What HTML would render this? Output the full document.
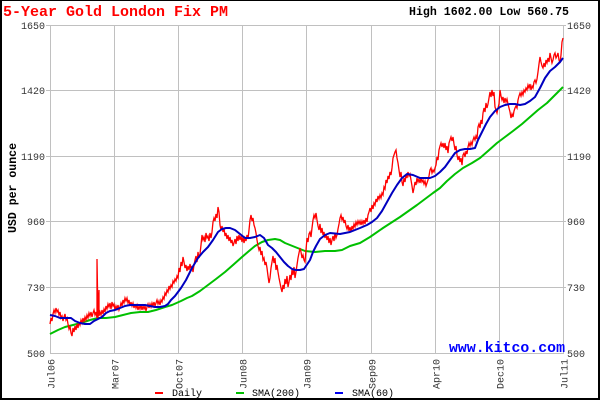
<!DOCTYPE html>
<html>
<head>
<meta charset="utf-8">
<style>
html,body{margin:0;padding:0;background:#fff;}
body{width:600px;height:400px;overflow:hidden;}
svg{display:block;}
text{font-family:"Liberation Mono","DejaVu Sans Mono",monospace;}
</style>
</head>
<body>
<svg width="600" height="400" viewBox="0 0 600 400" xmlns="http://www.w3.org/2000/svg">
<rect x="0" y="0" width="600" height="400" fill="#fff"/>
<!-- outer border -->
<rect x="0" y="0" width="600" height="1" fill="#000"/>
<rect x="0" y="0" width="2" height="400" fill="#000"/>
<rect x="598" y="0" width="2" height="400" fill="#000"/>
<rect x="0" y="398" width="600" height="2" fill="#000"/>

<!-- title -->
<text x="3" y="16" font-size="15" font-weight="bold" fill="#ff0000" textLength="225" lengthAdjust="spacingAndGlyphs">5-Year Gold London Fix PM</text>
<text x="409" y="15" font-size="12" font-weight="bold" fill="#000" textLength="160" lengthAdjust="spacingAndGlyphs">High 1602.00 Low 560.75</text>

<!-- grid -->
<g stroke="#c0c0c0" stroke-width="1" shape-rendering="crispEdges" fill="none">
<line x1="50" y1="25.5" x2="564" y2="25.5"/>
<line x1="50" y1="90.5" x2="564" y2="90.5"/>
<line x1="50" y1="156.5" x2="564" y2="156.5"/>
<line x1="50" y1="221.5" x2="564" y2="221.5"/>
<line x1="50" y1="287.5" x2="564" y2="287.5"/>
<line x1="50" y1="353.5" x2="564" y2="353.5"/>
<line x1="50.5" y1="25" x2="50.5" y2="354"/>
<line x1="114.5" y1="25" x2="114.5" y2="354"/>
<line x1="178.5" y1="25" x2="178.5" y2="354"/>
<line x1="242.5" y1="25" x2="242.5" y2="354"/>
<line x1="306.5" y1="25" x2="306.5" y2="354"/>
<line x1="371.5" y1="25" x2="371.5" y2="354"/>
<line x1="435.5" y1="25" x2="435.5" y2="354"/>
<line x1="499.5" y1="25" x2="499.5" y2="354"/>
<line x1="563.5" y1="25" x2="563.5" y2="354"/>
<!-- tick stubs -->
<line x1="46" y1="25.5" x2="50" y2="25.5"/>
<line x1="46" y1="90.5" x2="50" y2="90.5"/>
<line x1="46" y1="156.5" x2="50" y2="156.5"/>
<line x1="46" y1="221.5" x2="50" y2="221.5"/>
<line x1="46" y1="287.5" x2="50" y2="287.5"/>
<line x1="564" y1="25.5" x2="566" y2="25.5"/>
<line x1="564" y1="90.5" x2="566" y2="90.5"/>
<line x1="564" y1="156.5" x2="566" y2="156.5"/>
<line x1="564" y1="221.5" x2="566" y2="221.5"/>
<line x1="564" y1="287.5" x2="566" y2="287.5"/>
</g>

<!-- y labels -->
<g font-size="10" fill="#333" text-anchor="end">
<text x="45" y="29">1650</text>
<text x="45" y="94">1420</text>
<text x="45" y="160">1190</text>
<text x="45" y="225">960</text>
<text x="45" y="291">730</text>
<text x="45" y="357">500</text>
</g>
<g font-size="10" fill="#333" text-anchor="start">
<text x="567" y="29">1650</text>
<text x="567" y="94">1420</text>
<text x="567" y="160">1190</text>
<text x="567" y="225">960</text>
<text x="567" y="291">730</text>
<text x="567" y="357">500</text>
</g>

<!-- y axis title -->
<text transform="translate(16,188) rotate(-90)" font-size="12" font-weight="bold" fill="#000" text-anchor="middle" textLength="90" lengthAdjust="spacingAndGlyphs">USD per ounce</text>

<!-- x labels -->
<g font-size="10" fill="#333" text-anchor="end">
<text transform="translate(54.5,359) rotate(-90)">Jul06</text>
<text transform="translate(118.5,359) rotate(-90)">Mar07</text>
<text transform="translate(182.5,359) rotate(-90)">Oct07</text>
<text transform="translate(246.5,359) rotate(-90)">Jun08</text>
<text transform="translate(310.5,359) rotate(-90)">Jan09</text>
<text transform="translate(375.5,359) rotate(-90)">Sep09</text>
<text transform="translate(439.5,359) rotate(-90)">Apr10</text>
<text transform="translate(503.5,359) rotate(-90)">Dec10</text>
<text transform="translate(567.5,359) rotate(-90)">Jul11</text>
</g>

<!-- SMA200 green -->
<polyline fill="none" stroke="#00c000" stroke-width="2" stroke-linejoin="round" points="50,334 58,330 65,327 73,325 81,323 90,320 98,318 106,318 115,317 123,315 131,313 140,312 148,312 156,310 165,307 172,305 181,301 187,298 192,296 200,291 208,285 216,279 225,272 233,265 242,257 249,251 255,246 262,242 268,240 275,239 280,240 285,243 295,247 305,251 315,252 325,251 335,251 342,250 350,246 360,243 370,237 383,228 400,217 417,205 433,193 440,188 447,181 455,174 463,168 472,163 480,158 488,151 497,143 505,137 513,131 522,124 530,117 538,110 547,103 555,95 563,87"/>

<!-- Daily red -->
<polyline fill="none" stroke="#ff0000" stroke-width="1.3" stroke-linejoin="miter" points="50,324 51,318 52,321 53,314 54,310 55,313 56,308 57,312 58,310 59,315 60,312 61,318 62,316 63,321 64,317 65,314 66,320 67,318 68,324 69,329 70,326 71,333 72,336 73,328 74,332 75,326 76,330 77,324 78,328 79,322 80,325 81,320 82,323 83,318 84,322 85,317 86,320 87,315 88,318 89,313 90,316 91,312 92,317 93,313 94,310 95,315 96,312 97,318 97,259 98,318 99,290 99,316 100,312 101,315 102,310 103,314 104,309 105,312 106,306 107,309 108,304 109,307 110,303 111,309 112,302 113,306 114,304 115,310 116,306 117,309 118,305 119,310 120,307 121,303 122,306 123,300 124,303 125,298 126,301 127,298 128,303 129,300 130,306 131,302 132,306 133,303 134,308 135,304 136,308 137,305 138,310 139,306 140,309 141,305 142,310 143,306 144,309 145,306 146,311 147,307 148,304 149,308 150,304 151,307 152,303 153,306 154,302 155,306 156,303 157,300 158,304 159,301 160,305 161,300 162,302 163,297 164,299 165,293 166,295 167,290 168,292 169,286 170,289 171,285 172,287 173,281 174,283 175,279 176,281 177,276 178,278 179,268 180,272 181,262 182,266 183,257 184,262 185,268 186,265 187,271 188,266 189,270 190,264 191,269 192,266 193,272 194,265 195,260 196,256 197,262 198,252 199,258 200,254 201,245 202,235 203,240 204,237 205,242 206,233 207,238 208,236 209,241 210,233 211,238 212,232 213,222 214,218 215,221 216,214 217,218 218,207 219,212 220,225 221,230 222,226 223,232 224,228 225,236 226,233 227,239 228,235 229,241 230,237 231,243 232,240 233,246 234,243 235,239 236,244 237,236 238,241 239,235 240,240 241,236 242,242 243,237 244,243 245,238 246,241 247,235 248,239 249,230 250,220 251,215 252,221 253,218 254,225 255,228 256,233 257,240 258,246 259,250 260,247 261,255 262,251 263,260 264,258 265,265 266,262 267,268 268,276 269,283 270,278 271,268 272,262 273,256 274,263 275,258 276,270 277,265 278,272 279,278 280,283 281,288 282,292 283,285 284,289 285,279 286,284 287,276 288,287 289,282 290,275 291,280 292,270 293,275 294,267 295,278 296,272 297,265 298,258 299,253 300,248 301,252 302,258 303,255 304,260 305,262 306,250 307,238 308,242 309,234 310,232 311,237 312,228 313,220 314,215 315,218 316,213 317,220 318,226 319,230 320,224 321,233 322,228 323,235 324,232 325,238 326,234 327,240 328,236 329,243 330,238 331,245 332,240 333,236 334,241 335,233 336,238 337,235 338,229 339,224 340,218 341,215 342,220 343,217 344,223 345,220 346,226 347,229 348,225 349,231 350,227 351,232 352,226 353,229 354,224 355,227 356,222 357,225 358,221 359,224 360,221 361,225 362,221 363,224 364,220 365,224 366,218 367,222 368,215 369,212 370,208 371,212 372,205 373,209 374,203 375,205 376,199 377,202 378,196 379,199 380,195 381,198 382,193 383,195 384,187 385,189 386,180 387,183 388,176 389,179 390,172 391,175 392,168 393,158 394,155 395,152 396,150 397,158 398,163 399,170 400,177 401,172 402,182 403,186 404,178 405,182 406,175 407,178 408,172 409,176 410,174 411,180 412,186 413,193 414,188 415,182 416,185 417,178 418,182 419,179 420,183 421,178 422,182 423,180 424,184 425,181 426,186 427,183 428,180 429,176 430,170 431,168 432,173 433,170 434,172 435,168 436,165 437,157 438,160 439,150 440,146 441,143 442,147 443,143 444,148 445,143 446,150 447,146 448,153 449,143 450,140 451,137 452,141 453,137 454,144 455,150 456,146 457,155 458,160 459,156 460,162 461,158 462,165 463,155 464,153 465,157 466,151 467,154 468,147 469,143 470,146 471,142 472,145 473,140 474,137 475,140 476,136 477,139 478,127 479,124 480,128 481,120 482,124 483,113 484,108 485,112 486,103 487,108 488,104 489,98 490,92 491,97 492,90 493,96 494,92 495,107 496,110 497,113 498,108 499,104 500,90 501,96 502,100 503,97 504,103 505,98 506,102 507,99 508,104 509,108 510,112 511,118 512,114 513,117 514,111 515,108 516,106 517,108 518,100 519,96 520,93 521,96 522,92 523,95 524,90 525,92 526,88 527,90 528,85 529,88 530,84 531,90 532,86 533,88 534,82 535,80 536,83 537,79 538,72 539,64 540,57 541,62 542,66 543,68 544,63 545,67 546,60 547,63 548,58 549,62 550,53 551,58 552,63 553,60 554,55 555,53 556,58 557,56 558,53 559,60 560,63 561,55 562,42 563,38"/>

<!-- SMA60 blue -->
<polyline fill="none" stroke="#0000c0" stroke-width="2" stroke-linejoin="round" points="50,315 55,316 60,318 66,318 71,318 75,321 80,323 85,324 90,324 94,321 98,319 102,317 106,313 110,311 115,310 120,308 125,306 130,305 135,305 140,305 145,305 150,306 155,307 160,307 165,306 168,304 171,300 175,296 181,288 186,280 192,268 198,258 203,252 208,247 213,240 218,232 222,229 226,228 230,228 235,230 240,234 245,238 250,238 255,237 260,235 264,238 268,245 272,248 276,252 280,257 284,262 288,266 292,269 296,270 300,270 304,269 308,263 310,260 313,252 316,246 320,239 325,235 330,233 340,234 350,232 360,228 367,225 372,222 377,218 382,211 387,202 392,193 397,185 402,178 407,174 413,175 420,178 430,178 435,176 440,172 445,167 450,160 455,153 460,150 465,149 470,149 475,148 478,140 482,132 486,124 490,117 495,111 500,107 505,105 510,104 515,104 520,105 525,104 530,101 535,97 540,88 545,78 550,71 555,67 560,62 563,58"/>

<!-- watermark -->
<text x="449" y="352" font-size="15" font-weight="bold" fill="#0000ff" textLength="116" lengthAdjust="spacingAndGlyphs">www.kitco.com</text>

<!-- legend -->
<rect x="155" y="392" width="8" height="2" fill="#ff0000"/>
<text x="172" y="396" font-size="10" fill="#000">Daily</text>
<rect x="236" y="392" width="8" height="2" fill="#00c000"/>
<text x="252" y="396" font-size="10" fill="#000">SMA(200)</text>
<rect x="335" y="392" width="8" height="2" fill="#0000ee"/>
<text x="352" y="396" font-size="10" fill="#000">SMA(60)</text>
</svg>
</body>
</html>
